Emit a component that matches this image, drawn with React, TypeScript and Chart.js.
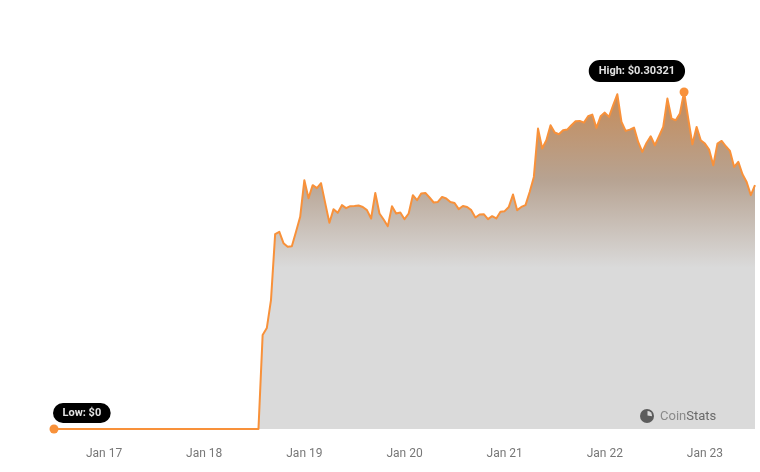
import React, { useEffect, useRef } from "react";
import { Chart, registerables } from "chart.js";

Chart.register(...registerables);

// hourly prices (USD), starting Jan 16 12:00
const prices: number[] = [
  0, 0, 0, 0, 0, 0, 0, 0, 0, 0,
  0, 0, 0, 0, 0, 0, 0, 0, 0, 0,
  0, 0, 0, 0, 0, 0, 0, 0, 0, 0,
  0, 0, 0, 0, 0, 0, 0, 0, 0, 0,
  0, 0, 0, 0, 0, 0, 0, 0, 0, 0,
  0.0845, 0.0908, 0.116, 0.1753, 0.1774, 0.1672, 0.1639, 0.1645, 0.1774, 0.1909,
  0.2239, 0.2077, 0.2194, 0.2167, 0.2212, 0.2032, 0.1855, 0.1978, 0.1945, 0.2014,
  0.1987, 0.2005, 0.2007, 0.2011, 0.1998, 0.1969, 0.1894, 0.2124, 0.1939, 0.1885,
  0.1825, 0.2005, 0.1939, 0.1948, 0.1888, 0.1939, 0.2104, 0.2059, 0.2119, 0.2124,
  0.2083, 0.2038, 0.2043, 0.2088, 0.2074, 0.2043, 0.2034, 0.1978, 0.2007, 0.1998,
  0.1969, 0.1903, 0.193, 0.1933, 0.1888, 0.1915, 0.1894, 0.1954, 0.196, 0.1998,
  0.211, 0.1969, 0.1998, 0.2014, 0.2133, 0.2268, 0.2703, 0.2524, 0.2598, 0.2733,
  0.2668, 0.2652, 0.2688, 0.2694, 0.2733, 0.2769, 0.2772, 0.2757, 0.2814, 0.2829,
  0.2709, 0.2814, 0.2847, 0.2808, 0.2913, 0.3012, 0.2763, 0.2682, 0.2694, 0.2712,
  0.2583, 0.2493, 0.2574, 0.2634, 0.2553, 0.2634, 0.2718, 0.2973, 0.2793, 0.2778,
  0.2838, 0.30321, 0.2793, 0.2562, 0.2718, 0.2598, 0.2568, 0.2514, 0.2373, 0.2568,
  0.2592, 0.2544, 0.2502, 0.2358, 0.2403, 0.2292, 0.2223, 0.2104, 0.2194,
];

const tickLabels: string[] = ["Jan 17", "Jan 18", "Jan 19", "Jan 20", "Jan 21", "Jan 22", "Jan 23"];
// hour offsets (from first point) of the tick labels (midnight of each day)
const tickHours: number[] = [12, 36, 60, 84, 108, 132, 156];

const highLabel = "High: $0.30321";
const lowLabel = "Low: $0";

const LINE = "#f8913a";

function roundRect(c: CanvasRenderingContext2D, x: number, y: number, w: number, h: number, r: number) {
  c.beginPath();
  c.moveTo(x + r, y);
  c.lineTo(x + w - r, y);
  c.arc(x + w - r, y + r, r, -Math.PI / 2, 0);
  c.lineTo(x + w, y + h - r);
  c.arc(x + w - r, y + h - r, r, 0, Math.PI / 2);
  c.lineTo(x + r, y + h);
  c.arc(x + r, y + h - r, r, Math.PI / 2, Math.PI);
  c.lineTo(x, y + r);
  c.arc(x + r, y + r, r, Math.PI, Math.PI * 1.5);
  c.closePath();
}

export default function App() {
  const ref = useRef<HTMLCanvasElement | null>(null);

  useEffect(() => {
    if (!ref.current) return;
    const maxIdx = prices.indexOf(Math.max(...prices));
    const minIdx = prices.indexOf(Math.min(...prices));

    const overlay = {
      id: "overlay",
      afterDatasetsDraw(chart: any) {
        const c: CanvasRenderingContext2D = chart.ctx;
        const meta = chart.getDatasetMeta(0);
        const hi = meta.data[maxIdx];
        const lo = meta.data[minIdx];
        c.save();
        c.font = "bold 11px Roboto";
        c.textBaseline = "middle";
        c.textAlign = "center";
        {
          const tw = c.measureText(highLabel).width;
          const w = tw + 20;
          const h = 22;
          const x = hi.x + 1 - w;
          const y = hi.y - 10 - h;
          roundRect(c, x, y, w, h, h / 2);
          c.fillStyle = "#000";
          c.fill();
          c.fillStyle = "#e2e2e2";
          c.fillText(highLabel, x + w / 2, y + h / 2 + 0.5);
        }
        {
          const tw = c.measureText(lowLabel).width;
          const w = tw + 19;
          const h = 20;
          const x = lo.x - 1;
          const y = lo.y - 6 - h;
          roundRect(c, x, y, w, h, h / 2);
          c.fillStyle = "#000";
          c.fill();
          c.fillStyle = "#e2e2e2";
          c.fillText(lowLabel, x + w / 2, y + h / 2 + 0.5);
        }
        const area = chart.chartArea;
        const wx = area.right - 108;
        const wy = area.bottom - 13;
        c.beginPath();
        c.arc(wx, wy, 7, 0, Math.PI * 2);
        c.fillStyle = "#5c5c5c";
        c.fill();
        c.beginPath();
        c.moveTo(wx + 0.5, wy - 0.5);
        c.arc(wx + 0.5, wy - 0.5, 4.5, -Math.PI / 2, Math.PI * 0.05);
        c.closePath();
        c.fillStyle = "#dadada";
        c.fill();
        c.font = "13px Roboto";
        c.textAlign = "left";
        c.fillStyle = "#8a8a8a";
        c.fillText("Coin", wx + 13, wy + 1);
        const cw = c.measureText("Coin").width;
        c.fillStyle = "#6a6a6a";
        c.fillText("Stats", wx + 13 + cw, wy + 1);
        c.restore();
      },
    };

    const chart = new Chart(ref.current, {
      type: "line",
      data: {
        datasets: [
          {
            data: prices.map((v, i) => ({ x: i, y: v })),
            borderColor: LINE,
            borderWidth: 2,
            borderJoinStyle: "round",
            tension: 0,
            fill: "origin",
            clip: false as any,
            pointRadius: (ctx: any) => (ctx.dataIndex === maxIdx || ctx.dataIndex === minIdx ? 4.5 : 0),
            pointHoverRadius: 0,
            pointBackgroundColor: LINE,
            pointBorderWidth: 0,
            backgroundColor: (ctx: any) => {
              const ch = ctx.chart;
              const area = ch.chartArea;
              if (!area) return "#dadada";
              const ys = ch.scales.y;
              const g = ch.ctx.createLinearGradient(0, ys.getPixelForValue(0.303), 0, ys.getPixelForValue(0.145));
              g.addColorStop(0, "rgb(198,139,88)");
              g.addColorStop(0.5, "rgb(183,163,146)");
              g.addColorStop(1, "rgb(218,218,218)");
              return g;
            },
          },
        ],
      },
      options: {
        animation: false,
        responsive: true,
        maintainAspectRatio: false,
        layout: { padding: { left: 54, right: 5, top: 40, bottom: 0 } },
        plugins: { legend: { display: false }, tooltip: { enabled: false } },
        events: [],
        scales: {
          x: {
            type: "linear",
            min: 0,
            max: prices.length - 1,
            grid: { display: false },
            border: { display: false },
            afterBuildTicks: (scale: any) => {
              scale.ticks = tickHours.map((v) => ({ value: v }));
            },
            afterFit: (scale: any) => {
              scale.height = 43;
            },
            ticks: {
              autoSkip: false,
              maxRotation: 0,
              padding: 10,
              color: "#777777",
              font: { family: "Roboto", size: 12 },
              callback: (v: any) => {
                const i = tickHours.indexOf(Number(v));
                return i >= 0 ? tickLabels[i] : "";
              },
            },
          },
          y: {
            display: false,
            min: 0,
            max: 0.35,
          },
        },
      },
      plugins: [overlay],
    } as any);
    return () => chart.destroy();
  }, []);

  return (
    <div style={{ position: "fixed", left: 0, top: 0, width: 760, height: 472, background: "#fff" }}>
      <canvas ref={ref} />
    </div>
  );
}
